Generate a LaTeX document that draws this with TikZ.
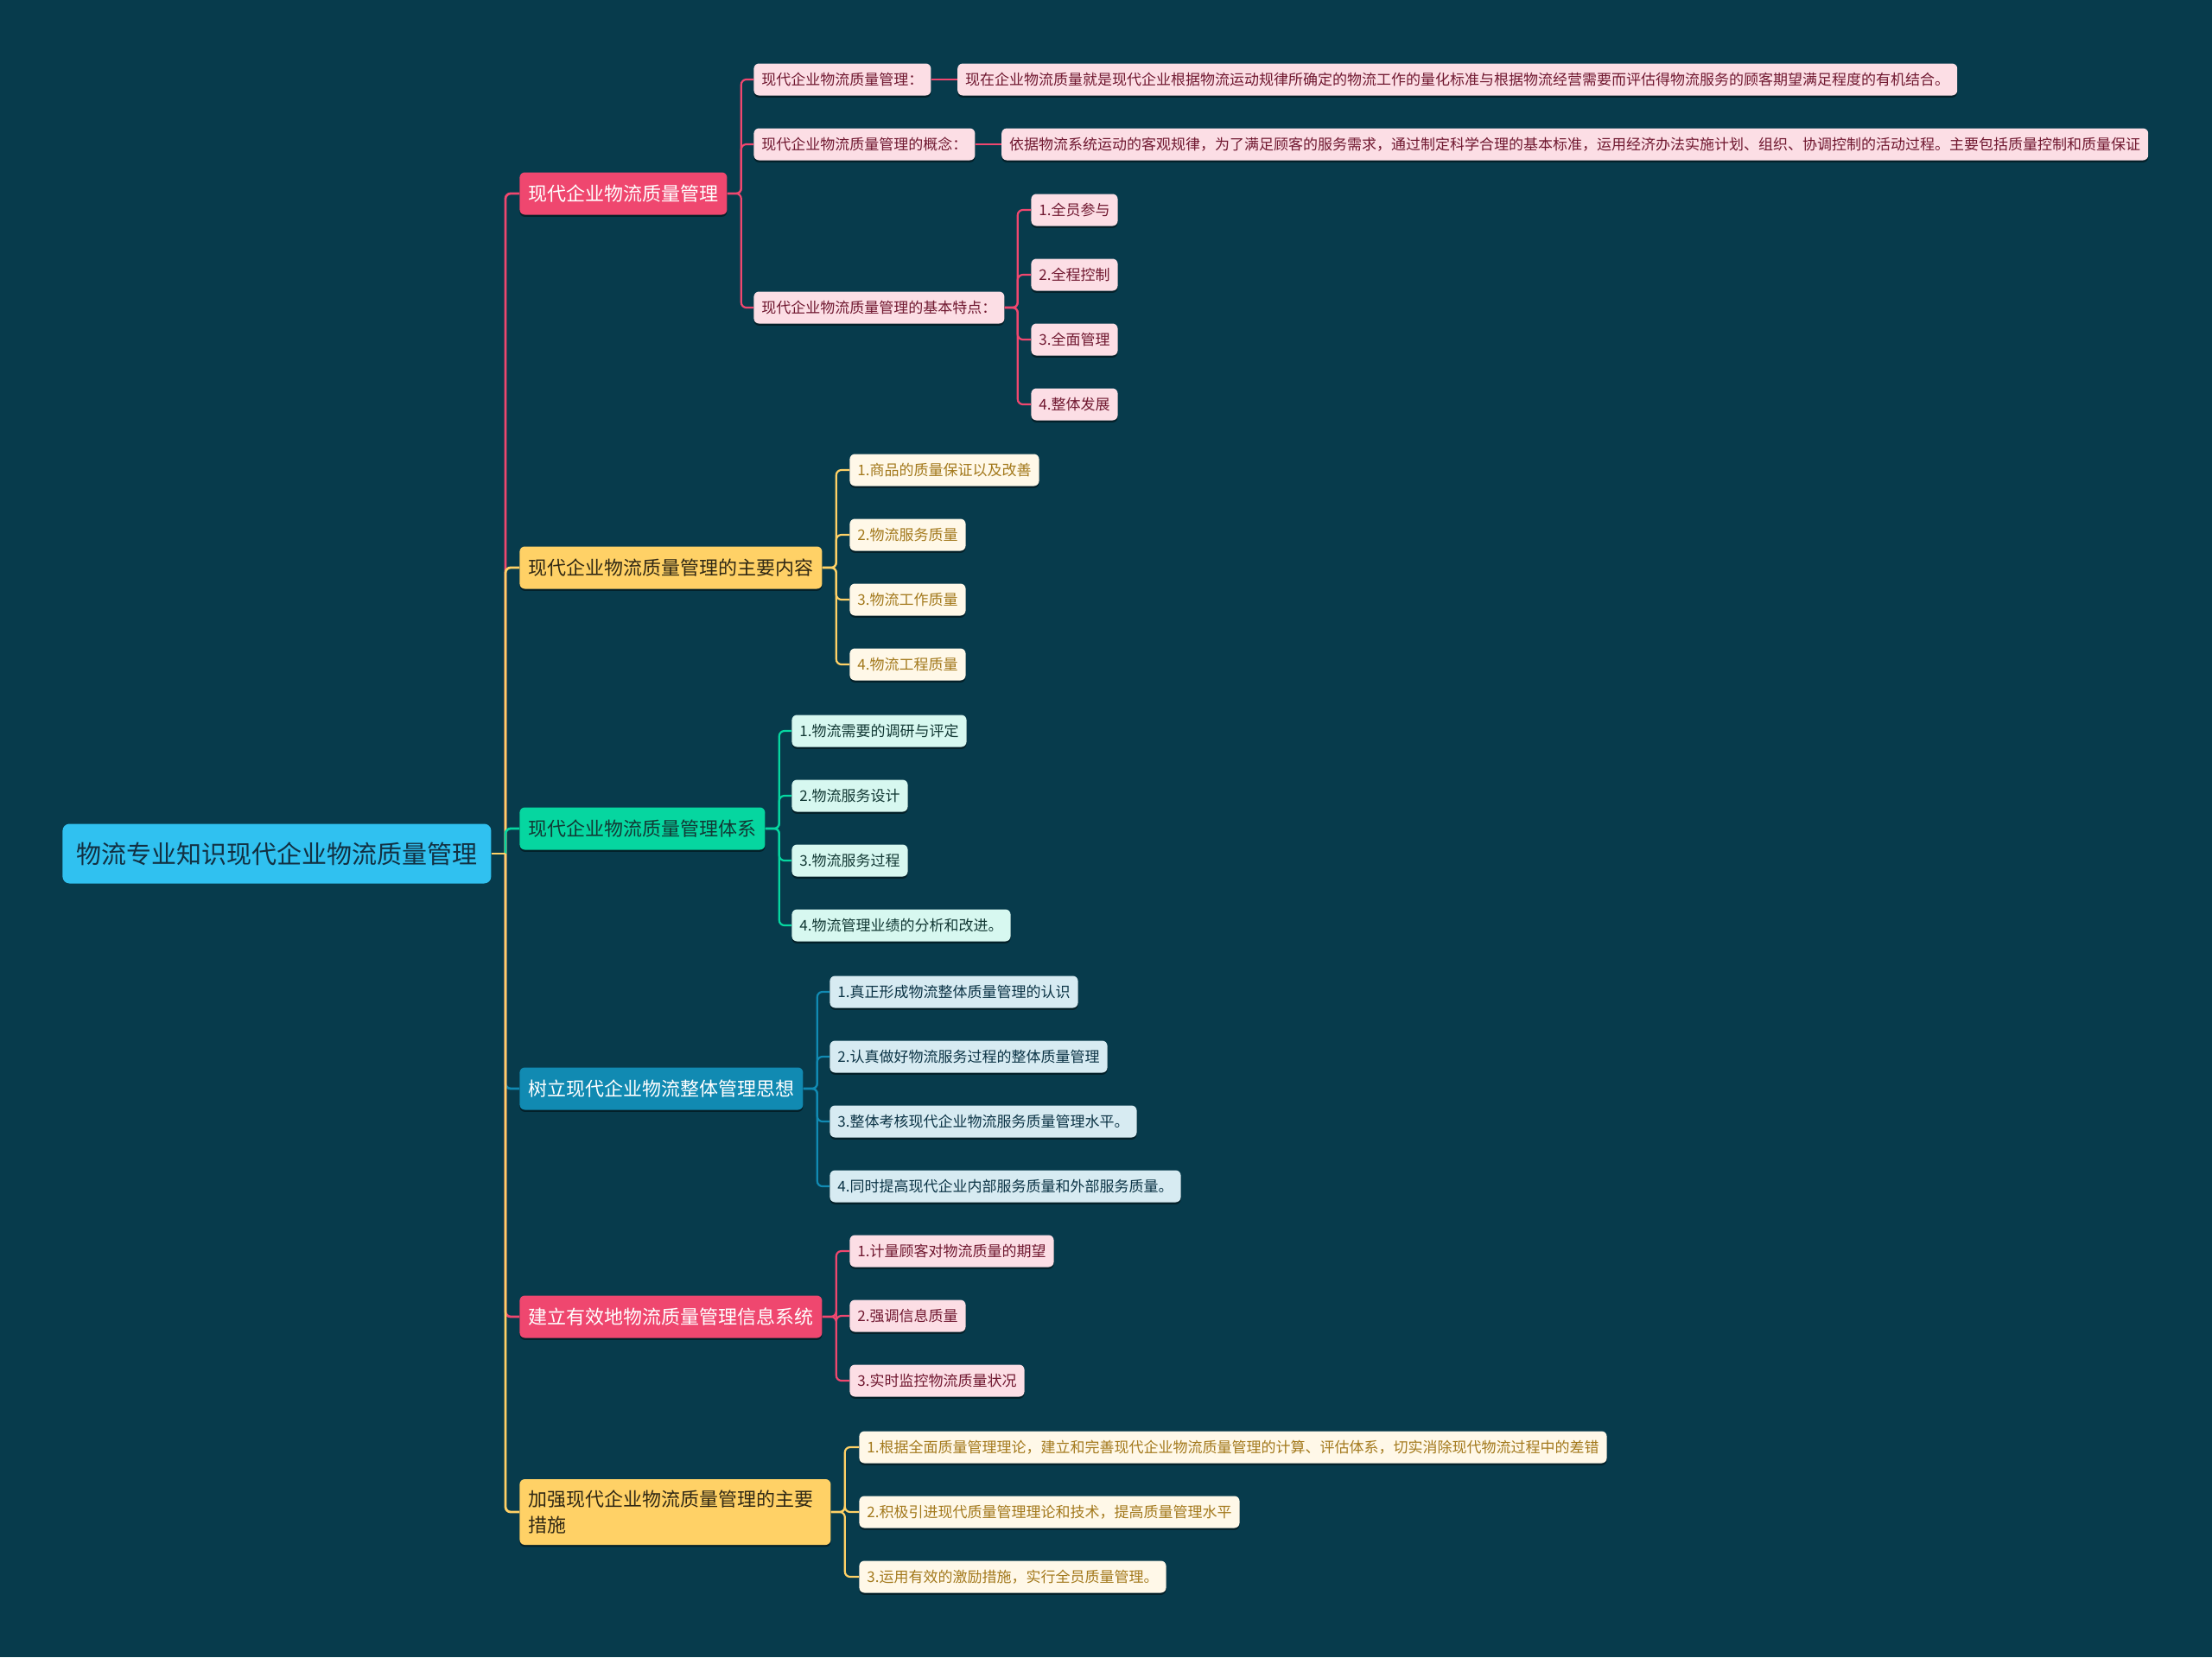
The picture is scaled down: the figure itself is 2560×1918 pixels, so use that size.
\documentclass[tikz,border=0pt]{standalone}
\usepackage{fontspec}
\usepackage{xcolor}
\usepackage{tikz}
\usetikzlibrary{positioning, calc, shadows}
\setmainfont{Noto Sans CJK SC}
\definecolor{deepteal}{RGB}{7, 59, 76}
\definecolor{skycyan}{RGB}{48, 193, 240}
\definecolor{rootink}{RGB}{18, 48, 66}
\definecolor{rosered}{RGB}{239, 71, 111}
\definecolor{sunyellow}{RGB}{255, 209, 102}
\definecolor{mintgreen}{RGB}{6, 214, 160}
\definecolor{oceanblue}{RGB}{17, 138, 178}
\definecolor{roseink}{RGB}{112, 24, 48}
\definecolor{goldink}{RGB}{163, 121, 28}
\definecolor{mintink}{RGB}{18, 56, 52}
\definecolor{oceanink}{RGB}{12, 52, 70}
\definecolor{darkink}{RGB}{48, 40, 20}

\begin{document}
\begin{tikzpicture}[x=0.5pt, y=-0.5pt,
    lowshade/.style={drop shadow={shadow xshift=0pt, shadow yshift=-1.2pt, opacity=0.45, fill=black}},
    rootbox/.style={fill=skycyan, text=rootink, rounded corners=4pt, anchor=west,
        font=\fontsize{14.5}{17}\selectfont, inner xsep=8pt, minimum height=34.5pt},
    topicbox/.style={rounded corners=3pt, anchor=west, lowshade,
        font=\fontsize{11}{15}\selectfont, inner xsep=5pt, minimum height=24.5pt},
    leafbox/.style={rounded corners=3pt, anchor=west, lowshade,
        font=\fontsize{8.5}{10}\selectfont, inner xsep=4.5pt, minimum height=18.5pt},
    roseleaf/.style={leafbox, fill=rosered!18!white, text=roseink},
    goldleaf/.style={leafbox, fill=sunyellow!15!white, text=goldink},
    mintleaf/.style={leafbox, fill=mintgreen!16!white, text=mintink},
    oceanleaf/.style={leafbox, fill=oceanblue!17!white, text=oceanink},
    trunk/.style={line width=1.4pt, rounded corners=3pt},
    twig/.style={line width=1.1pt, rounded corners=3pt}]

  % background
  \fill[deepteal] (0,0) rectangle (2560,1918);

  % root
  \node[rootbox] (root) at (72,988) {物流专业知识现代企业物流质量管理};
  \coordinate (rj) at (585,988);

  % main topics
  \node[topicbox, fill=rosered, text=white] (n1) at (601,224) {现代企业物流质量管理};
  \node[topicbox, fill=sunyellow, text=darkink] (n2) at (601,657) {现代企业物流质量管理的主要内容};
  \node[topicbox, fill=mintgreen, text=mintink] (n3) at (601,959) {现代企业物流质量管理体系};
  \node[topicbox, fill=oceanblue, text=white] (n4) at (601,1260) {树立现代企业物流整体管理思想};
  \node[topicbox, fill=rosered, text=white] (n5) at (601,1524) {建立有效地物流质量管理信息系统};
  \node[topicbox, fill=sunyellow, text=darkink, align=left, text width=170pt, minimum height=38pt]
    (n6) at (601,1750) {加强现代企业物流质量管理的主要\\措施};

  \draw[trunk, rosered] (rj) |- (n1.west);
  \draw[trunk, sunyellow] (rj) |- (n2.west);
  \draw[trunk, mintgreen] (rj) |- (n3.west);
  \draw[trunk, oceanblue] (rj) |- (n4.west);
  \draw[trunk, rosered] (rj) |- (n5.west);
  \draw[trunk, sunyellow] (rj) |- (n6.west);
  \draw[trunk, sunyellow] (root.east) -- (rj);

  % branch 1
  \node[roseleaf] (a1) at (872,92) {现代企业物流质量管理：};
  \node[roseleaf, right=15pt of a1] (a1d) {现在企业物流质量就是现代企业根据物流运动规律所确定的物流工作的量化标准与根据物流经营需要而评估得物流服务的顾客期望满足程度的有机结合。};
  \node[roseleaf] (a2) at (872,167) {现代企业物流质量管理的概念：};
  \node[roseleaf, right=15pt of a2] (a2d) {依据物流系统运动的客观规律，为了满足顾客的服务需求，通过制定科学合理的基本标准，运用经济办法实施计划、组织、协调控制的活动过程。主要包括质量控制和质量保证};
  \node[roseleaf] (a3) at (872,356) {现代企业物流质量管理的基本特点：};
  \foreach \t [count=\i] in {{1.全员参与}, {2.全程控制}, {3.全面管理}, {4.整体发展}}
    \node[roseleaf] (c\i) at (1193, {243+75*(\i-1)}) {\t};

  \foreach \k in {a1, a2, a3}
    \draw[twig, rosered] (n1.east) -- ++(16,0) |- (\k.west);
  \draw[twig, rosered] (a1.east) -- (a1d.west);
  \draw[twig, rosered] (a2.east) -- (a2d.west);
  \foreach \i in {1,...,4}
    \draw[twig, rosered] (a3.east) -- ++(15,0) |- (c\i.west);

  % branch 2
  \foreach \t [count=\i] in {{1.商品的质量保证以及改善}, {2.物流服务质量}, {3.物流工作质量}, {4.物流工程质量}} {
    \node[goldleaf] (b\i) at (983, {544+75*(\i-1)}) {\t};
    \draw[twig, sunyellow] (n2.east) -- ++(16,0) |- (b\i.west);
  }

  % branch 3
  \foreach \t [count=\i] in {{1.物流需要的调研与评定}, {2.物流服务设计}, {3.物流服务过程}, {4.物流管理业绩的分析和改进。}} {
    \node[mintleaf] (g\i) at (916, {846+75*(\i-1)}) {\t};
    \draw[twig, mintgreen] (n3.east) -- ++(16,0) |- (g\i.west);
  }

  % branch 4
  \foreach \t [count=\i] in {{1.真正形成物流整体质量管理的认识}, {2.认真做好物流服务过程的整体质量管理}, {3.整体考核现代企业物流服务质量管理水平。}, {4.同时提高现代企业内部服务质量和外部服务质量。}} {
    \node[oceanleaf] (h\i) at (960, {1148+75*(\i-1)}) {\t};
    \draw[twig, oceanblue] (n4.east) -- ++(16,0) |- (h\i.west);
  }

  % branch 5
  \foreach \t [count=\i] in {{1.计量顾客对物流质量的期望}, {2.强调信息质量}, {3.实时监控物流质量状况}} {
    \node[roseleaf] (r\i) at (983, {1448+75*(\i-1)}) {\t};
    \draw[twig, rosered] (n5.east) -- ++(16,0) |- (r\i.west);
  }

  % branch 6
  \foreach \t [count=\i] in {{1.根据全面质量管理理论，建立和完善现代企业物流质量管理的计算、评估体系，切实消除现代物流过程中的差错}, {2.积极引进现代质量管理理论和技术，提高质量管理水平}, {3.运用有效的激励措施，实行全员质量管理。}} {
    \node[goldleaf] (m\i) at (994, {1675+75*(\i-1)}) {\t};
    \draw[twig, sunyellow] (n6.east) -- ++(16,0) |- (m\i.west);
  }
\end{tikzpicture}
\end{document}
